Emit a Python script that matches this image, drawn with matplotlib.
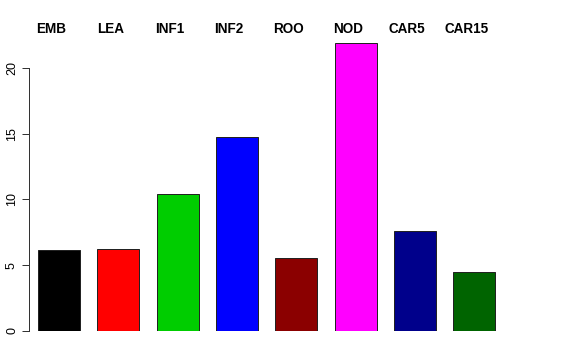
import matplotlib
matplotlib.use("Agg")
import matplotlib.pyplot as plt

categories = ["EMB", "LEA", "INF1", "INF2", "ROO", "NOD", "CAR5", "CAR15"]
values = [6.18, 6.23, 10.42, 14.73, 5.55, 21.9, 7.58, 4.46]
colors = ["#000000", "#FF0000", "#00CD00", "#0000FF", "#8B0000", "#FF00FF", "#00008B", "#006400"]
yticks = [0, 5, 10, 15, 20]

plt.rcParams['font.family'] = ['Liberation Sans', 'DejaVu Sans']

W, H = 576, 360
fig = plt.figure(figsize=(W / 72, H / 72), dpi=72)
left_px, right_px, bottom_px, top_px = 29, 540, 331, 20
ax = fig.add_axes([left_px / W, (H - bottom_px) / H,
                   (right_px - left_px) / W, (bottom_px - top_px) / H])

xs = list(range(len(categories)))
ax.bar(xs, values, width=0.708, color=colors, edgecolor="#222222", linewidth=1)

px_per_x = 59.33
x0 = 59.15
ax.set_xlim((left_px - x0) / px_per_x, (right_px - x0) / px_per_x)
px_per_y = 13.15
ax.set_ylim(0, (bottom_px - top_px) / px_per_y)

for s in ["top", "right", "bottom"]:
    ax.spines[s].set_visible(False)
ax.spines["left"].set_bounds(0, 20)
ax.spines["left"].set_linewidth(1)
ax.spines["left"].set_color("#333333")
ax.set_xticks([])
ax.set_yticks(yticks)
ax.set_yticklabels([str(t) for t in yticks], rotation=90, va="center", fontsize=12.5)
ax.tick_params(axis="y", length=7, width=1, pad=4, color="#333333")

label_y = (bottom_px - 29) / px_per_y
for x, c in zip(xs, categories):
    ax.text(x - 8 / px_per_x, label_y, c, ha="center", va="center",
            fontsize=13.5, fontweight="bold", clip_on=False)

fig.savefig("out.png", dpi=72)
